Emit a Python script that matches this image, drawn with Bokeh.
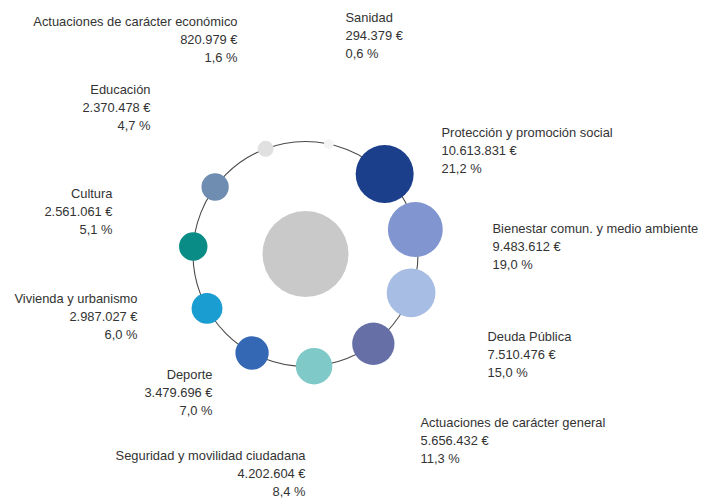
import math
from bokeh.plotting import figure
from bokeh.models import Range1d
from bokeh.core.properties import value
from bokeh.embed import file_html
from bokeh.resources import INLINE

# ---- data (ring order, clockwise from top) ----
categories = ["Sanidad", "Protección y promoción social", "Bienestar comun. y medio ambiente",
              "Deuda Pública", "Actuaciones de carácter general", "Seguridad y movilidad ciudadana",
              "Deporte", "Vivienda y urbanismo", "Cultura", "Educación",
              "Actuaciones de carácter económico"]
euros = ["294.379 €", "10.613.831 €", "9.483.612 €", "7.510.476 €", "5.656.432 €",
         "4.202.604 €", "3.479.696 €", "2.987.027 €", "2.561.061 €", "2.370.478 €", "820.979 €"]
percents = [0.6, 21.2, 19.0, 15.0, 11.3, 8.4, 7.0, 6.0, 5.1, 4.7, 1.6]
pct_labels = ["0,6 %", "21,2 %", "19,0 %", "15,0 %", "11,3 %", "8,4 %", "7,0 %", "6,0 %",
              "5,1 %", "4,7 %", "1,6 %"]
colors = ["#f4f4f4", "#1b3f8b", "#8196d0", "#a8bde3", "#6670a6", "#7fcac8",
          "#3568b4", "#1a9dd0", "#0a8c86", "#6f8db0", "#e0e0e0"]

# ---- layout ----
W, H = 705, 504
cx, cy, R = 305, 253.5, 112.5
start_deg = 78.0
step = 360.0 / len(categories)
scale = 29.0 / math.sqrt(21.2)

xs, ys, rs = [], [], []
for i, pct in enumerate(percents):
    a = math.radians(start_deg - i * step)
    xs.append(cx + R * math.cos(a))
    ys.append(cy - R * math.sin(a))
    rs.append(scale * math.sqrt(pct))

# label anchor (x, first-line y, align)
label_pos = [(345, 17, "left"), (441, 132, "left"), (492, 228, "left"), (487, 336, "left"),
             (420, 422, "left"), (305, 455, "right"), (212, 374, "right"), (137, 298, "right"),
             (112, 193, "right"), (150, 89, "right"), (237, 21, "right")]
line_gap = 18.0

p = figure(width=W, height=H, output_backend="svg", toolbar_location=None,
           x_range=Range1d(0, W), y_range=Range1d(H, 0),
           min_border=0, outline_line_color=None)
p.axis.visible = False
p.grid.visible = False
p.background_fill_color = "white"

# ring
p.circle(x=[cx], y=[cy], radius=R, fill_color=None, line_color="#4a4a4a", line_width=1.1)
# centre disc
p.circle(x=[cx], y=[cy], radius=43, fill_color="#c9c9c9", line_color=None)
# category discs
p.circle(x=xs, y=ys, radius=rs, fill_color=colors, line_color=None)

tx, ty, tt, ta = [], [], [], []
for i in range(len(categories)):
    lx, ly, al = label_pos[i]
    for j, s in enumerate([categories[i], euros[i], pct_labels[i]]):
        tx.append(lx); ty.append(ly + j * line_gap); tt.append(s); ta.append(al)

p.text(x=tx, y=ty, text=tt, text_align=ta, text_baseline="middle",
       text_font=value("Liberation Sans"), text_font_size="12.9px", text_color="#333333")

open("out.html", "w").write(file_html(p, INLINE))
